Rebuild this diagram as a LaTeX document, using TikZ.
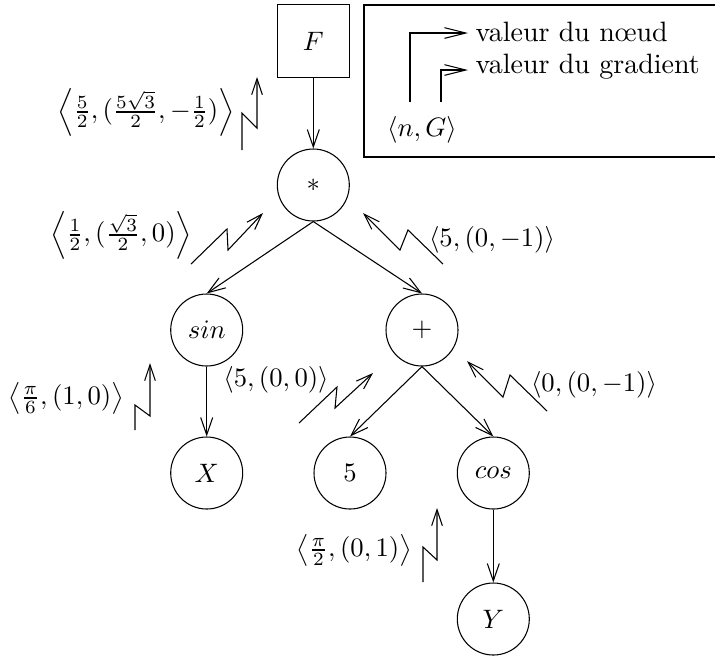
\documentclass[tikz,border=0pt]{standalone}
\usetikzlibrary{arrows.meta}
\begin{document}
\begin{tikzpicture}[x=0.375pt,y=-0.375pt,
  nd/.style={circle,draw,minimum size=27pt,inner sep=0pt},
  bx/.style={rectangle,draw,minimum width=27pt,minimum height=27.5pt,inner sep=0pt},
  tip/.style={-{Straight Barb[length=6.5pt,width=4.5pt]}},
  zig/.style={-{Straight Barb[length=6pt,width=4pt]}},
  lg/.style={-{Straight Barb[length=8pt,width=4pt]}},
  lab/.style={inner sep=0pt}]
\clip (0,0) rectangle (715,655);
% tree nodes
\node[bx] (F) at (313.3,41) {$F$};
\node[nd] (mul) at (313.3,185) {$*$};
\node[nd] (sin) at (206.7,330) {$sin$};
\node[nd] (plus) at (422,330) {$+$};
\node[nd] (X) at (206.7,473) {$X$};
\node[nd] (five) at (350,473) {$5$};
\node[nd] (cos) at (493.3,473) {$cos$};
\node[nd] (Y) at (493.3,619) {$Y$};
% tree edges
\draw[tip] (F.south) -- (mul.north);
\draw[tip] (mul.south) -- (sin.north);
\draw[tip] (mul.south) -- (plus.north);
\draw[tip] (sin.south) -- (X.north);
\draw[tip] (plus.south) -- (five.north);
\draw[tip] (plus.south) -- (cos.north);
\draw[tip] (cos.south) -- (Y.north);
% value/gradient labels
\node[lab] (lF) at (146,112) {$\left\langle \frac{5}{2}, (\frac{5\sqrt{3}}{2}, -\frac{1}{2}) \right\rangle$};
\node[lab] (lsin) at (121,235) {$\left\langle \frac{1}{2}, (\frac{\sqrt{3}}{2}, 0) \right\rangle$};
\node[lab] (lplus) at (492,240) {$\langle 5, (0, -1)\rangle$};
\node[lab] (lX) at (66,398) {$\left\langle \frac{\pi}{6}, (1, 0) \right\rangle$};
\node[lab] (lfive) at (276,380) {$\langle 5, (0, 0)\rangle$};
\node[lab] (lcos) at (594,385) {$\langle 0, (0, -1)\rangle$};
\node[lab] (lY) at (354,550) {$\left\langle \frac{\pi}{2}, (0, 1) \right\rangle$};
% zigzag arrows
\draw[zig] (242,150) -- (242,113) -- (257,128) -- (257,77);
\draw[zig] (191,264) -- (227,229) -- (228,250) -- (263,213);
\draw[zig] (443,264) -- (408,230) -- (400,250) -- (363,213);
\draw[zig] (135,430) -- (135,405) -- (150,416) -- (150,363);
\draw[zig] (299,423) -- (337,387) -- (335,408) -- (373,373);
\draw[zig] (547,411) -- (510,375) -- (503,397) -- (467,361);
\draw[zig] (423,582) -- (423,547) -- (437,560) -- (437,508);
% legend
\draw (364,5) rectangle (725,157);
\coordinate (a1) at (410,102);
\coordinate (a2) at (441,102);
\node[lab,anchor=west,font=\fontsize{10.5pt}{12pt}\selectfont] (tn) at (475,32) {valeur du n\oe ud};
\node[lab,anchor=west,font=\fontsize{10.5pt}{12pt}\selectfont] (tg) at (475,67) {valeur du gradient};
\node[lab] (nG) at (422,130) {$\langle n, G\rangle$};
\draw[lg] (a1) |- (468,33);
\draw[lg] (a2) |- (468,70);
\end{tikzpicture}
\end{document}
